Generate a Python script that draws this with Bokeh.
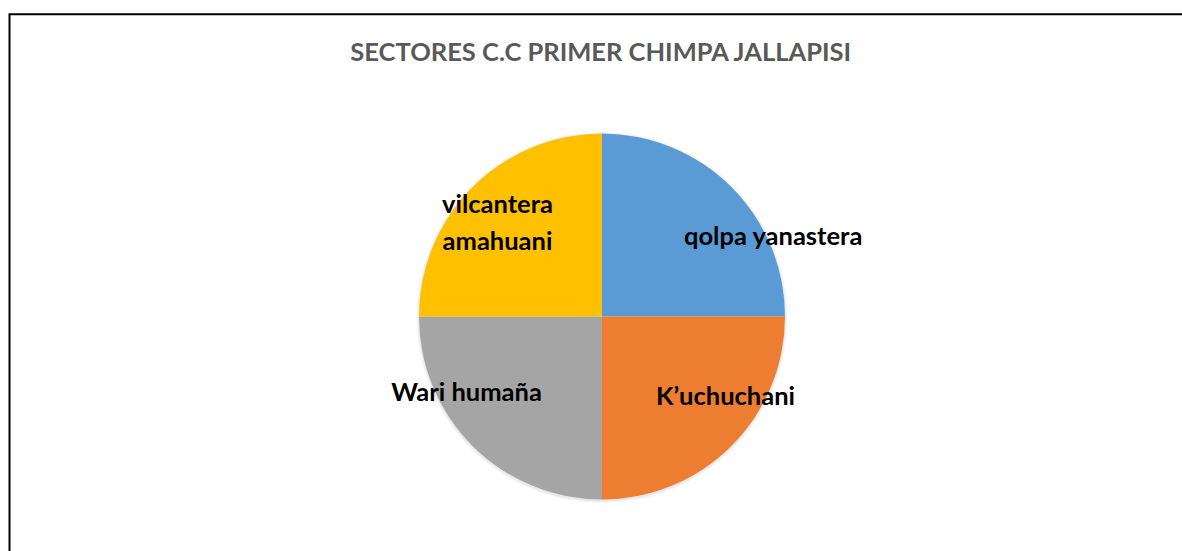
from math import pi
from bokeh.plotting import figure
from bokeh.models import Range1d, Label, ColumnDataSource
from bokeh.core.properties import value
from bokeh.embed import file_html
from bokeh.resources import INLINE

# ---- data ----
title_text = "SECTORES C.C PRIMER CHIMPA JALLAPISI"
sectors = ["qolpa yanastera", "K\u2019uchuchani", "Wari huma\u00f1a", "vilcantera\namahuani"]
values = [1, 1, 1, 1]
colors = ["#5B9BD5", "#ED7D31", "#A5A5A5", "#FFC000"]

# ---- layout (page pixel space, y measured from top) ----
W, H = 1182, 551
cx, cy, R = 601.5, 316, 183
label_pos = [(773, 234.5), (725, 394.5), (466, 390.5), (497, 221)]
title_pos = (601, 50.5)

def Y(py):
    return H - py

p = figure(width=W, height=H, output_backend="svg", toolbar_location=None,
           x_range=Range1d(0, W), y_range=Range1d(0, H),
           min_border=0, outline_line_color=None)
p.axis.visible = False
p.grid.visible = False
p.background_fill_color = "white"
p.border_fill_color = "white"

# pie angles: start at 12 o'clock, clockwise
total = sum(values)
starts, ends = [], []
cum = 0
for v in values:
    starts.append(pi / 2 - 2 * pi * cum / total)
    cum += v
    ends.append(pi / 2 - 2 * pi * cum / total)

src = ColumnDataSource(dict(start=starts, end=ends, color=colors, name=sectors,
                            x=[cx] * len(values), y=[Y(cy)] * len(values)))

# soft shadow
for i, a in enumerate([0.04, 0.03, 0.02]):
    p.circle(x=cx, y=Y(cy) - 1, radius=R + 1 + i, fill_color="black", fill_alpha=a,
             line_color=None)

p.wedge(x="x", y="y", radius=R, start_angle="start", end_angle="end",
        direction="clock", fill_color="color", line_color=None, source=src)

# labels
for name, (lx, ly) in zip(sectors, label_pos):
    p.text(x=[lx], y=[Y(ly)], text=[name], text_align="center", text_baseline="middle",
           text_font=value("Lato"), text_font_style="bold", text_font_size="25.5px",
           text_color="black", text_line_height=1.23)

# title
p.add_layout(Label(x=title_pos[0], y=Y(title_pos[1]), text=title_text, text_align="center",
                   text_baseline="middle", text_font="Lato", text_font_style="bold",
                   text_font_size="25.5px", text_color="#595959"))

# chart border (only top and left edges fall inside the window)
bx, by = 9, 13.8
p.line(x=[bx, bx, W + 10], y=[-10, Y(by), Y(by)], line_color="black", line_width=2,
       line_join="miter")

open("out.html", "w").write(file_html(p, INLINE))
